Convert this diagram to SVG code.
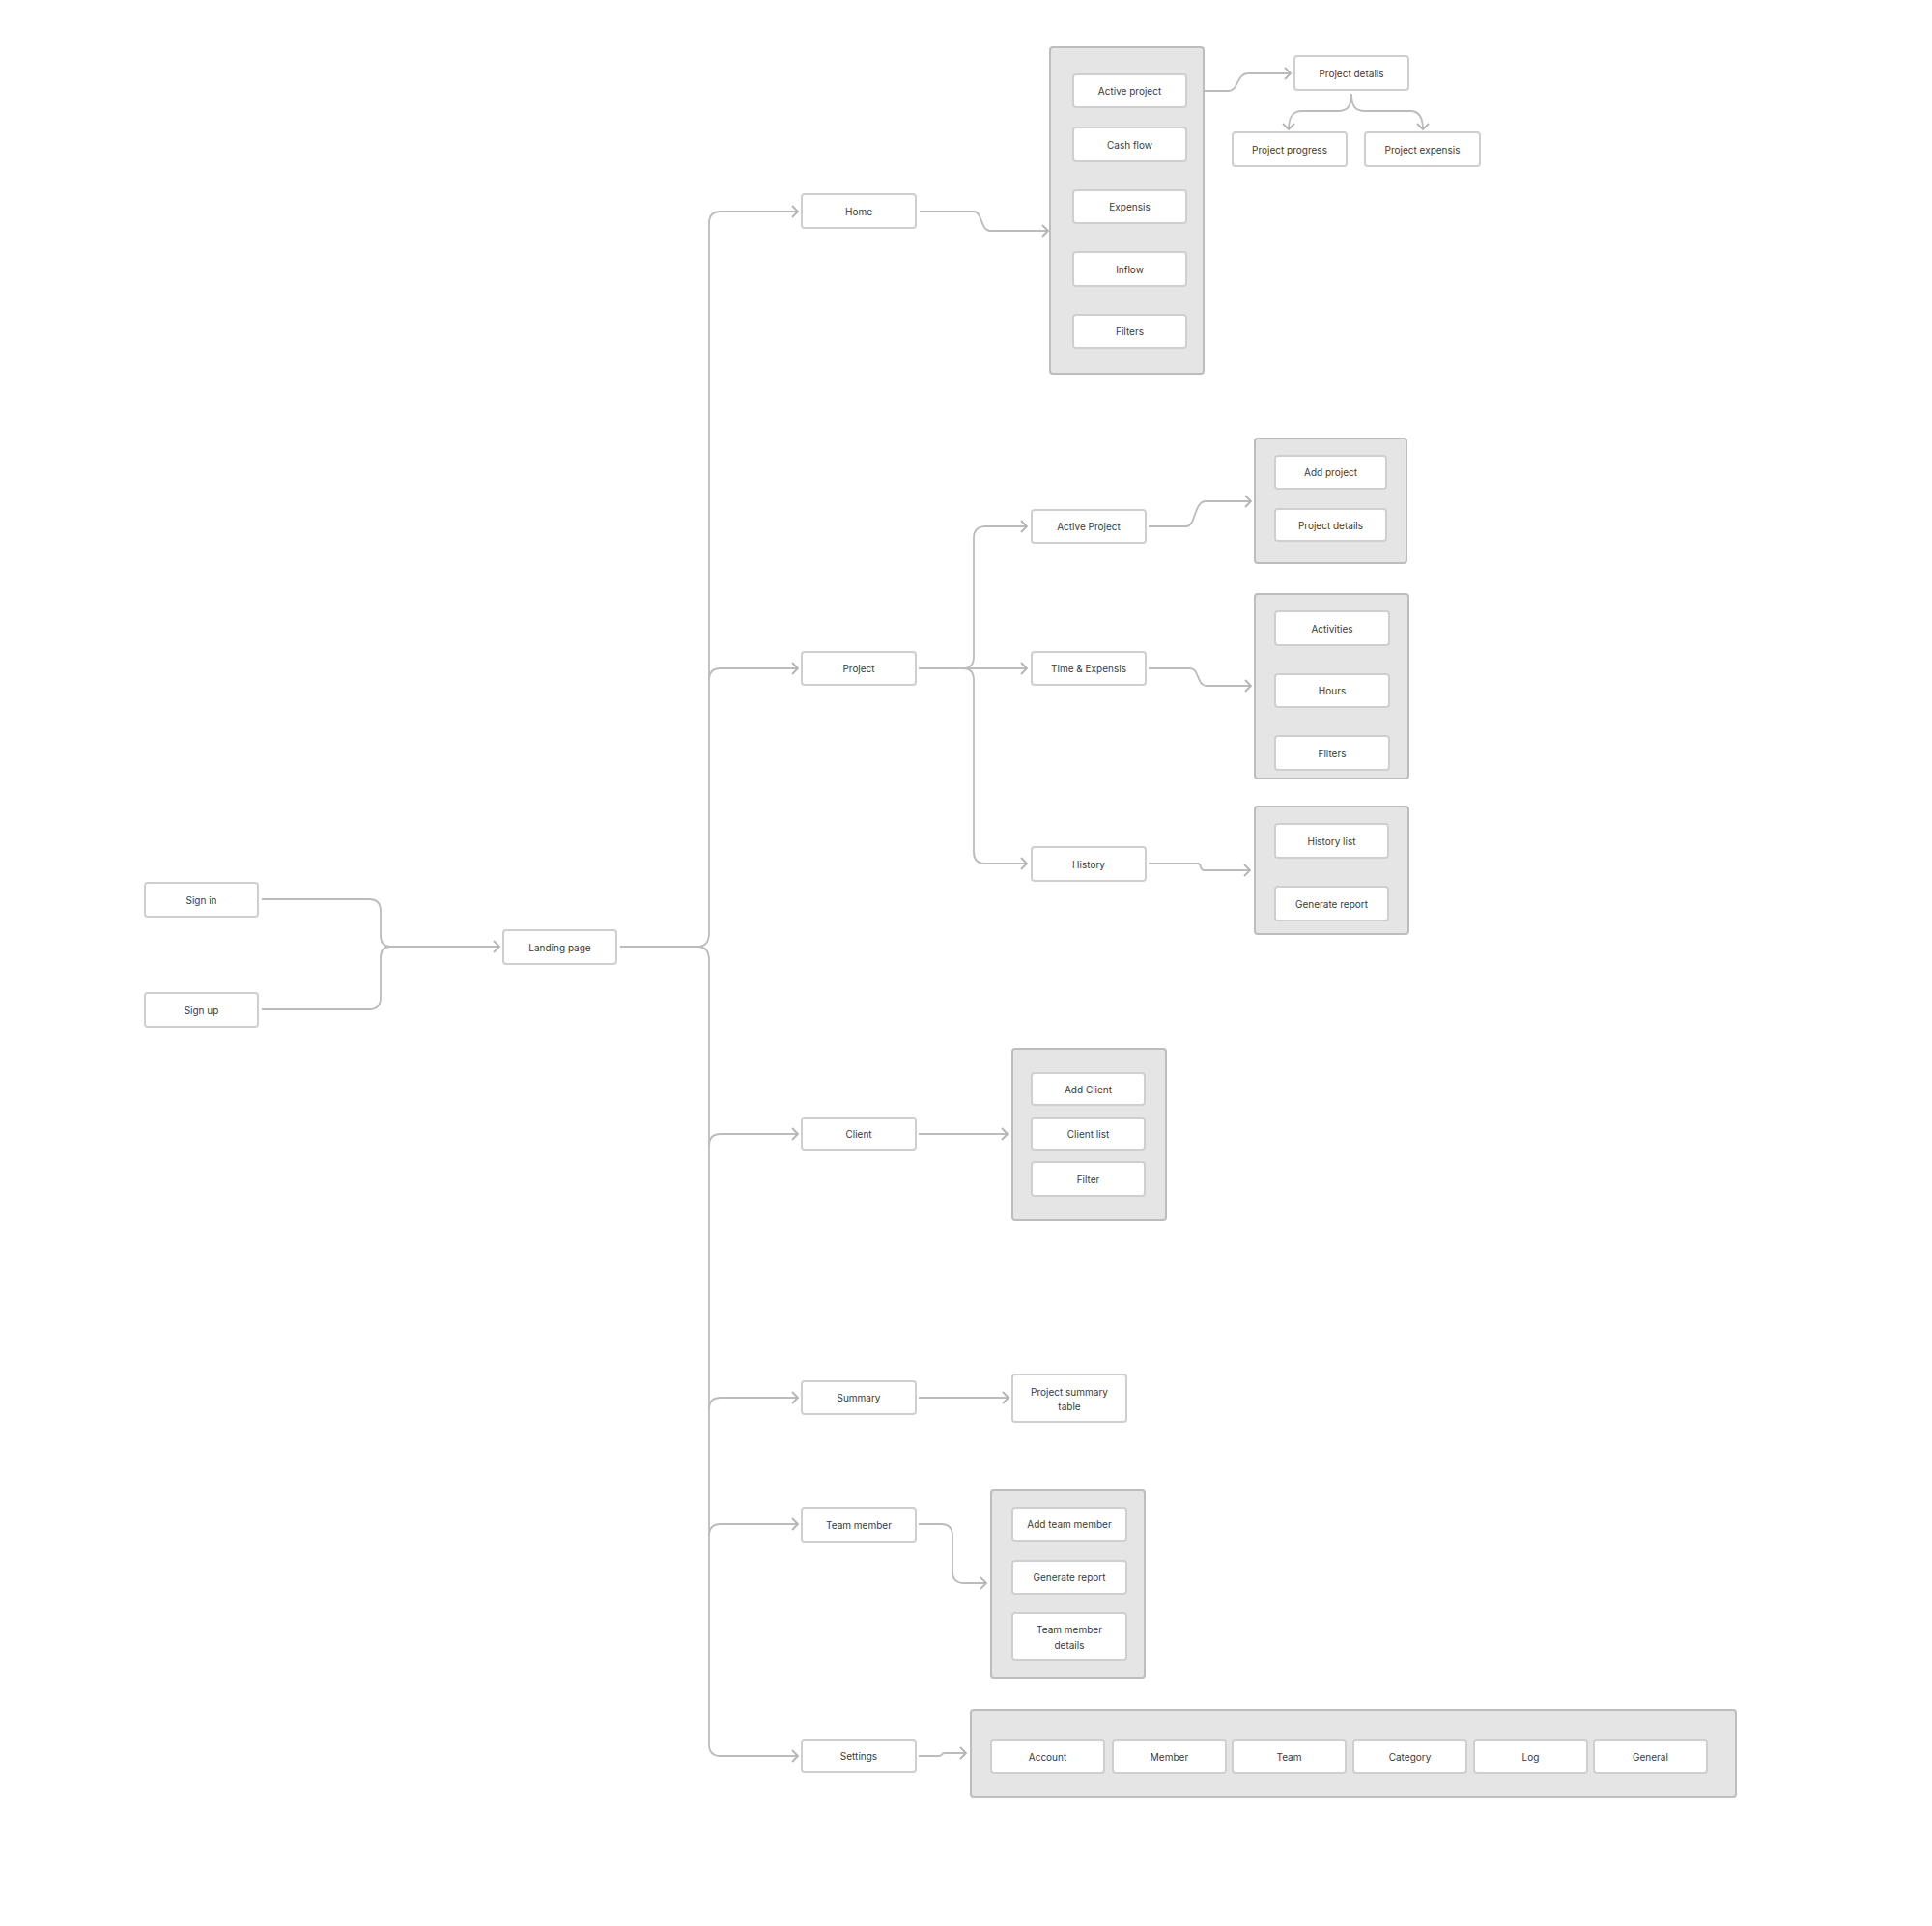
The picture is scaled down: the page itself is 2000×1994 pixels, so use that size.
<svg xmlns="http://www.w3.org/2000/svg" width="2000" height="1994" viewBox="0 0 2000 1994">
<style>
.box{fill:#ffffff;stroke:#cfcfcf;stroke-width:2}
.grp{fill:#e5e5e5;stroke:#bdbdbd;stroke-width:2}
text{font-family:Inter,"Liberation Sans",sans-serif;font-size:10px;fill:#3a3a3a;text-anchor:middle;dominant-baseline:central}
.c{fill:none;stroke:#bcbcbc;stroke-width:1.8}
</style>
<defs>
<marker id="arr" viewBox="-10 -10 20 20" markerWidth="20" markerHeight="20" markerUnits="userSpaceOnUse" refX="0" refY="0" orient="auto">
<path d="M-6,-6 L0,0 L-6,6" fill="none" stroke="#b4b4b4" stroke-width="1.8"/>
</marker>
</defs>
<rect width="2000" height="1994" fill="#ffffff"/>

<g id="connectors">
<path class="c" d="M271,931 H382 Q394,931 394,943 V968 Q394,980 404,980"/>
<path class="c" d="M271,1045 H382 Q394,1045 394,1033 V992 Q394,980 404,980"/>
<path class="c" d="M404,980 H517" marker-end="url(#arr)"/>
<path class="c" d="M642,980 H722"/>
<path class="c" d="M722,980 C730,980 734,975 734,966 V231 Q734,219 746,219 H826" marker-end="url(#arr)"/>
<path class="c" d="M722,980 C730,980 734,985 734,994 V1806 Q734,1818 746,1818 H826" marker-end="url(#arr)"/>
<path class="c" d="M734,704 Q734,692 746,692 H826" marker-end="url(#arr)"/>
<path class="c" d="M734,1186 Q734,1174 746,1174 H826" marker-end="url(#arr)"/>
<path class="c" d="M734,1459 Q734,1447 746,1447 H826" marker-end="url(#arr)"/>
<path class="c" d="M734,1590 Q734,1578 746,1578 H826" marker-end="url(#arr)"/>
<path class="c" d="M952,219 H1008 C1017,219 1015,239 1025,239 H1085" marker-end="url(#arr)"/>
<path class="c" d="M1232,94 H1272 C1282,94 1280,76 1292,76 H1336" marker-end="url(#arr)"/>
<path class="c" d="M1399,97 C1399,110 1395,115 1385,115 H1348 C1338,115 1334,121 1334,134" marker-end="url(#arr)"/>
<path class="c" d="M1399,97 C1399,110 1403,115 1413,115 H1460 C1468,115 1473,121 1473,134" marker-end="url(#arr)"/>
<path class="c" d="M951,692 H1063" marker-end="url(#arr)"/>
<path class="c" d="M997,692 C1004,692 1008,688 1008,680 V557 Q1008,545 1020,545 H1063" marker-end="url(#arr)"/>
<path class="c" d="M997,692 C1004,692 1008,696 1008,704 V882 Q1008,894 1020,894 H1063" marker-end="url(#arr)"/>
<path class="c" d="M1189,545 H1228 C1238,545 1236,519 1248,519 H1295" marker-end="url(#arr)"/>
<path class="c" d="M1189,692 H1232 C1242,692 1238,710 1250,710 H1295" marker-end="url(#arr)"/>
<path class="c" d="M1189,894 H1240 C1244,894 1242,901 1246,901 H1294" marker-end="url(#arr)"/>
<path class="c" d="M951,1174 H1043" marker-end="url(#arr)"/>
<path class="c" d="M951,1447 H1044" marker-end="url(#arr)"/>
<path class="c" d="M951,1578 H974 Q986,1578 986,1590 V1627 Q986,1639 998,1639 H1021" marker-end="url(#arr)"/>
<path class="c" d="M951,1818 H972 C976,1818 974,1815 978,1815 H1000" marker-end="url(#arr)"/>
</g>

<g id="sign-in"><rect class="box" x="150" y="914" width="117" height="35" rx="3"/><text x="208.5" y="931.5">Sign in</text></g>
<g id="sign-up"><rect class="box" x="150" y="1028" width="117" height="35" rx="3"/><text x="208.5" y="1045.5">Sign up</text></g>
<g id="landing-page"><rect class="box" x="521" y="963" width="117" height="35" rx="3"/><text x="579.5" y="980.5">Landing page</text></g>

<g id="home"><rect class="box" x="830" y="201" width="118" height="35" rx="3"/><text x="889" y="218.5">Home</text></g>
<g id="project"><rect class="box" x="830" y="675" width="118" height="34" rx="3"/><text x="889" y="692">Project</text></g>
<g id="client"><rect class="box" x="830" y="1157" width="118" height="34" rx="3"/><text x="889" y="1174">Client</text></g>
<g id="summary"><rect class="box" x="830" y="1430" width="118" height="34" rx="3"/><text x="889" y="1447">Summary</text></g>
<g id="team-member"><rect class="box" x="830" y="1561" width="118" height="35" rx="3"/><text x="889" y="1578.5">Team member</text></g>
<g id="settings"><rect class="box" x="830" y="1801" width="118" height="34" rx="3"/><text x="889" y="1818">Settings</text></g>

<g id="home-group">
<rect class="grp" x="1087" y="49" width="159" height="338" rx="3"/>
<rect class="box" x="1111" y="77" width="117" height="34" rx="3"/><text x="1169.5" y="94">Active project</text>
<rect class="box" x="1111" y="132" width="117" height="35" rx="3"/><text x="1169.5" y="149.5">Cash flow</text>
<rect class="box" x="1111" y="197" width="117" height="34" rx="3"/><text x="1169.5" y="214">Expensis</text>
<rect class="box" x="1111" y="261" width="117" height="35" rx="3"/><text x="1169.5" y="278.5">Inflow</text>
<rect class="box" x="1111" y="326" width="117" height="34" rx="3"/><text x="1169.5" y="343">Filters</text>
</g>
<g id="home-project-details"><rect class="box" x="1340" y="58" width="118" height="35" rx="3"/><text x="1399" y="75.5">Project details</text></g>
<g id="project-progress"><rect class="box" x="1276" y="137" width="118" height="35" rx="3"/><text x="1335" y="154.5">Project progress</text></g>
<g id="project-expensis"><rect class="box" x="1413" y="137" width="119" height="35" rx="3"/><text x="1472.5" y="154.5">Project expensis</text></g>

<g id="active-project"><rect class="box" x="1068" y="528" width="118" height="34" rx="3"/><text x="1127" y="545">Active Project</text></g>
<g id="time-expensis"><rect class="box" x="1068" y="675" width="118" height="34" rx="3"/><text x="1127" y="692">Time &amp; Expensis</text></g>
<g id="history"><rect class="box" x="1068" y="877" width="118" height="35" rx="3"/><text x="1127" y="894.5">History</text></g>

<g id="active-project-group">
<rect class="grp" x="1299" y="454" width="157" height="129" rx="3"/>
<rect class="box" x="1320" y="472" width="115" height="34" rx="3"/><text x="1377.5" y="489">Add project</text>
<rect class="box" x="1320" y="527" width="115" height="33" rx="3"/><text x="1377.5" y="543.5">Project details</text>
</g>
<g id="time-expensis-group">
<rect class="grp" x="1299" y="615" width="159" height="191" rx="3"/>
<rect class="box" x="1320" y="633" width="118" height="35" rx="3"/><text x="1379" y="650.5">Activities</text>
<rect class="box" x="1320" y="698" width="118" height="34" rx="3"/><text x="1379" y="715">Hours</text>
<rect class="box" x="1320" y="762" width="118" height="35" rx="3"/><text x="1379" y="779.5">Filters</text>
</g>
<g id="history-group">
<rect class="grp" x="1299" y="835" width="159" height="132" rx="3"/>
<rect class="box" x="1320" y="853" width="117" height="35" rx="3"/><text x="1378.5" y="870.5">History list</text>
<rect class="box" x="1320" y="918" width="117" height="35" rx="3"/><text x="1378.5" y="935.5">Generate report</text>
</g>

<g id="client-group">
<rect class="grp" x="1048" y="1086" width="159" height="177" rx="3"/>
<rect class="box" x="1068" y="1111" width="117" height="33" rx="3"/><text x="1126.5" y="1127.5">Add Client</text>
<rect class="box" x="1068" y="1157" width="117" height="34" rx="3"/><text x="1126.5" y="1174">Client list</text>
<rect class="box" x="1068" y="1203" width="117" height="35" rx="3"/><text x="1126.5" y="1220.5">Filter</text>
</g>

<g id="project-summary-table"><rect class="box" x="1048" y="1423" width="118" height="49" rx="3"/><text x="1107" y="1441">Project summary</text><text x="1107" y="1456">table</text></g>

<g id="team-member-group">
<rect class="grp" x="1026" y="1543" width="159" height="194" rx="3"/>
<rect class="box" x="1048" y="1561" width="118" height="34" rx="3"/><text x="1107" y="1578">Add team member</text>
<rect class="box" x="1048" y="1616" width="118" height="34" rx="3"/><text x="1107" y="1633">Generate report</text>
<rect class="box" x="1048" y="1670" width="118" height="49" rx="3"/><text x="1107" y="1687">Team member</text><text x="1107" y="1703">details</text>
</g>

<g id="settings-group">
<rect class="grp" x="1005" y="1770" width="792" height="90" rx="3"/>
<rect class="box" x="1026" y="1801" width="117" height="35" rx="3"/><text x="1084.5" y="1818.5">Account</text>
<rect class="box" x="1152" y="1801" width="117" height="35" rx="3"/><text x="1210.5" y="1818.5">Member</text>
<rect class="box" x="1276" y="1801" width="117" height="35" rx="3"/><text x="1334.5" y="1818.5">Team</text>
<rect class="box" x="1401" y="1801" width="117" height="35" rx="3"/><text x="1459.5" y="1818.5">Category</text>
<rect class="box" x="1526" y="1801" width="117" height="35" rx="3"/><text x="1584.5" y="1818.5">Log</text>
<rect class="box" x="1650" y="1801" width="117" height="35" rx="3"/><text x="1708.5" y="1818.5">General</text>
</g>
</svg>
